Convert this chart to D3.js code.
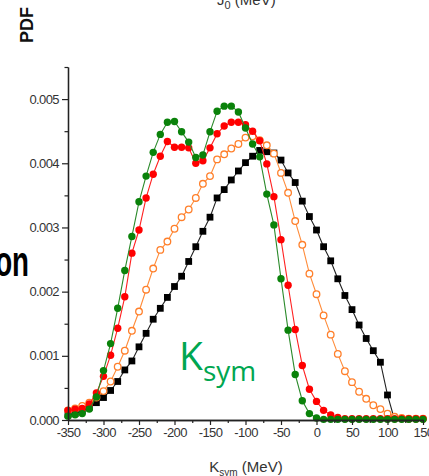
<!DOCTYPE html>
<html>
<head>
<meta charset="utf-8">
<script src="https://cdnjs.cloudflare.com/ajax/libs/d3/7.8.5/d3.min.js"></script>
<style>
  body { margin: 0; background: #fff; }
  svg { display: block; }
  text { font-family: "Liberation Sans", Arial, sans-serif; }
</style>
</head>
<body>
<div id="chart"></div>
<script>
// K_sym grid (MeV)
var ksym = [-350,-340,-330,-320,-310,-300,-290,-280,-270,-260,-250,-240,-230,-220,-210,-200,-190,-180,-170,-160,
            -150,-140,-130,-120,-110,-100,-90,-80,-70,-60,-50,-40,-30,-20,-10,0,10,20,30,40,
            50,60,70,80,90,100,110,120,130,140,150];

// PDF values
var pdfBlack = [0.00008,0.00010,0.00014,0.00020,0.00027,0.00035,0.00046,0.00060,0.00078,0.00092,
                0.00114,0.00135,0.00157,0.00174,0.00191,0.00208,0.00224,0.00247,0.00270,0.00294,
                0.00316,0.00346,0.00359,0.00374,0.00388,0.00401,0.00411,0.00420,0.00418,0.00416,
                0.00405,0.00385,0.00370,0.00341,0.00317,0.00296,0.00270,0.00248,0.00220,0.00194,
                0.00172,0.00148,0.00127,0.00108,0.00090,0.00039,0,null,null,null,null];
var pdfOrange = [0.00015,0.00018,0.00022,0.00027,0.00035,0.00045,0.00060,0.00083,0.00108,0.00139,
                 0.00169,0.00203,0.00236,0.00265,0.00278,0.00298,0.00316,0.00328,0.00346,0.00368,
                 0.00380,0.00406,0.00414,0.00423,0.00430,0.00440,0.00442,0.00436,0.00428,0.00415,
                 0.00385,0.00354,0.00310,0.00273,0.00228,0.00196,0.00163,0.00133,0.00103,0.00076,
                 0.00059,0.00044,0.00033,0.00023,0.00017,0.00010,0.00005,0.00003,0.00002,0.00002,0.00002];
var pdfRed = [0.00015,0.00017,0.00018,0.00025,0.00042,0.00068,0.00101,0.00143,0.00192,0.00260,
              0.00296,0.00346,0.00383,0.00411,0.00434,0.00425,0.00425,0.00424,0.00400,0.00404,
              0.00424,0.00446,0.00458,0.00464,0.00464,0.00460,0.00450,0.00435,0.00399,0.00348,
              0.00281,0.00210,0.00141,0.00085,0.00048,0.00029,0.00015,0.00008,0.00004,0.00002,
              0.00002,0.00002,0.00002,0.00002,0.00002,0.00002,0.00002,0.00002,0.00002,0.00002,0.00002];
var pdfGreen = [0.00006,0.00008,0.00010,0.00017,0.00036,0.00077,0.00119,0.00174,0.00233,0.00286,
                0.00340,0.00380,0.00417,0.00445,0.00464,0.00465,0.00449,0.00433,0.00409,0.00413,
                0.00449,0.00481,0.00489,0.00489,0.00480,0.00455,0.00430,0.00410,0.00352,0.00304,
                0.00220,0.00140,0.00071,0.00030,0.00010,0.00003,0.00001,0.00001,0.00001,0.00001,
                0.00001,0.00001,0.00001,0.00001,0.00001,0.00001,0.00001,0.00001,0.00001,0.00001,0.00001];

// ticks
var xMajor = [-350,-300,-250,-200,-150,-100,-50,0,50,100,150];
var xMinor = [-325,-275,-225,-175,-125,-75,-25,25,75,125];
var yMajor = [0,0.001,0.002,0.003,0.004,0.005];
var yMajorLabels = ["0.000","0.001","0.002","0.003","0.004","0.005"];
var yMinor = [0.0005,0.0015,0.0025,0.0035,0.0045,0.0055];

var series = [
  {values: pdfBlack,  shape: "square", color: "#000000", line: "#222222"},
  {values: pdfOrange, shape: "open",   color: "#ff7f2a", line: "#ff8c3a"},
  {values: pdfRed,    shape: "dot",    color: "#ff0000", line: "#ff2020"},
  {values: pdfGreen,  shape: "dot",    color: "#0a820a", line: "#2a8a2a"}
];

var margin = {top: 67, right: 6, bottom: 56, left: 68};
var W = 429, H = 476;
var width = W - margin.left - margin.right;
var height = H - margin.top - margin.bottom;

var root = d3.select("#chart").append("svg")
    .attr("width", W)
    .attr("height", H);

var svg = root.append("g")
    .attr("transform", "translate(" + margin.left + "," + margin.top + ")");

var x = d3.scaleLinear().domain([-350, 150]).range([0, 355]);
var y = d3.scaleLinear().domain([0, 0.0055]).range([height, 0]);

// lines and markers
var line = d3.line()
    .defined(function(d) { return d.v != null; })
    .x(function(d) { return x(d.k); })
    .y(function(d) { return y(d.v); });

series.forEach(function(s) {
  var pts = ksym.map(function(k, i) { return {k: k, v: s.values[i]}; });
  svg.append("path")
      .datum(pts)
      .attr("fill", "none")
      .attr("stroke", s.line)
      .attr("stroke-width", 1.1)
      .attr("d", line);

  var marks = pts.filter(function(d) { return d.v != null && d.v > 0; });
  if (s.shape == "square") {
    svg.selectAll(null).data(marks).enter().append("rect")
        .attr("x", function(d) { return x(d.k) - 3.4; })
        .attr("y", function(d) { return y(d.v) - 3.4; })
        .attr("width", 6.8)
        .attr("height", 6.8)
        .attr("fill", s.color);
  } else if (s.shape == "open") {
    svg.selectAll(null).data(marks).enter().append("circle")
        .attr("cx", function(d) { return x(d.k); })
        .attr("cy", function(d) { return y(d.v); })
        .attr("r", 3.3)
        .attr("fill", "#fff")
        .attr("stroke", s.color)
        .attr("stroke-width", 1.3);
  } else {
    svg.selectAll(null).data(marks).enter().append("circle")
        .attr("cx", function(d) { return x(d.k); })
        .attr("cy", function(d) { return y(d.v); })
        .attr("r", 3.7)
        .attr("fill", s.color);
  }
});

// axes
svg.append("g")
    .attr("transform", "translate(0," + height + ")")
    .call(d3.axisBottom(x).tickValues(xMajor).tickSize(5).tickSizeOuter(0).tickPadding(3)
          .tickFormat(function(d) { return String(d); }));
svg.append("g")
    .attr("transform", "translate(0," + height + ")")
    .call(d3.axisBottom(x).tickValues(xMinor).tickSize(3).tickSizeOuter(0).tickFormat(""));

svg.append("g")
    .call(d3.axisLeft(y).tickValues(yMajor).tickSize(6).tickSizeOuter(0).tickPadding(3)
          .tickFormat(function(d, i) { return yMajorLabels[i]; }));
svg.append("g")
    .call(d3.axisLeft(y).tickValues(yMinor).tickSize(3.5).tickSizeOuter(0).tickFormat(""));

svg.selectAll(".domain").attr("stroke", "#222").attr("stroke-width", 1.3);
svg.selectAll(".tick line").attr("stroke", "#222").attr("stroke-width", 1.2);
svg.selectAll(".tick text")
    .attr("fill", "#333")
    .style("font-size", "13px")
    .style("letter-spacing", "-0.6px");

// titles
root.append("text")
    .attr("transform", "translate(33,25) rotate(-90)")
    .attr("text-anchor", "middle")
    .style("font-size", "18px")
    .style("font-weight", "bold")
    .attr("fill", "#111")
    .text("PDF");

var jt = root.append("text")
    .attr("x", 217)
    .attr("y", 5)
    .style("font-size", "15px")
    .attr("fill", "#333");
jt.append("tspan").text("J");
jt.append("tspan").attr("dy", 4).style("font-size", "11px").text("0");
jt.append("tspan").attr("dy", -4).text(" (MeV)");

var xt = root.append("text")
    .attr("x", 246)
    .attr("y", 472)
    .attr("text-anchor", "middle")
    .style("font-size", "15px")
    .attr("fill", "#333");
xt.append("tspan").text("K");
xt.append("tspan").attr("dy", 4).style("font-size", "10px").text("sym");
xt.append("tspan").attr("dy", -4).text(" (MeV)");

// big annotation
var kt = root.append("text")
    .attr("x", 179)
    .attr("y", 370)
    .style("font-family", "'Open Sans', 'Noto Sans', sans-serif")
    .attr("fill", "#00a650");
kt.append("tspan").style("font-size", "39px").text("K");
kt.append("tspan").attr("dy", 11).style("font-size", "28px").text("sym");

root.append("text")
    .attr("transform", "translate(29,276) scale(0.66,1)")
    .attr("text-anchor", "end")
    .style("font-size", "42px")
    .style("font-weight", "bold")
    .attr("fill", "#000")
    .text("on");
</script>
</body>
</html>
